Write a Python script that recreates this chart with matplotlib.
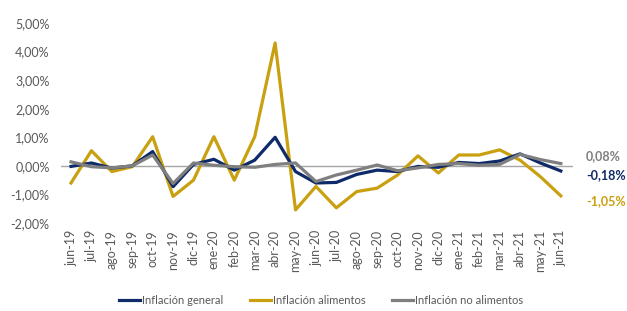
import numpy as np
import matplotlib
matplotlib.use('Agg')
import matplotlib.pyplot as plt
from matplotlib.ticker import FuncFormatter

plt.rcParams['font.family'] = ['Lato', 'DejaVu Sans']

meses = ['jun-19', 'jul-19', 'ago-19', 'sep-19', 'oct-19', 'nov-19', 'dic-19',
         'ene-20', 'feb-20', 'mar-20', 'abr-20', 'may-20', 'jun-20', 'jul-20',
         'ago-20', 'sep-20', 'oct-20', 'nov-20', 'dic-20', 'ene-21', 'feb-21',
         'mar-21', 'abr-21', 'may-21', 'jun-21']

general = [-0.02, 0.10, -0.08, 0.00, 0.50, -0.73, 0.05, 0.23, -0.15, 0.20,
           1.00, -0.20, -0.60, -0.58, -0.30, -0.15, -0.20, -0.02, -0.05, 0.12,
           0.08, 0.17, 0.42, 0.10, -0.18]
alimentos = [-0.60, 0.53, -0.20, -0.03, 1.02, -1.07, -0.50, 1.02, -0.50, 1.02,
             4.30, -1.54, -0.72, -1.47, -0.90, -0.78, -0.32, 0.35, -0.25, 0.38,
             0.38, 0.56, 0.20, -0.38, -1.05]
no_alimentos = [0.14, -0.03, -0.07, 0.00, 0.38, -0.62, 0.10, 0.02, -0.03, -0.05,
                0.05, 0.10, -0.55, -0.32, -0.15, 0.03, -0.17, -0.07, 0.05, 0.08,
                0.02, 0.05, 0.40, 0.22, 0.08]

c_gen = '#0e2a68'
c_ali = '#c9a00f'
c_no = '#7f7f7f'

fig = plt.figure(figsize=(6.27, 3.11), dpi=100)
ax = fig.add_axes([0.097, 0.283, 0.817, 0.643])

x = np.arange(len(meses))
ax.axhline(0, color='#a6a6a6', lw=1, zorder=1)
ax.plot(x, general, color=c_gen, lw=2.3, label='Inflación general', zorder=3)
ax.plot(x, alimentos, color=c_ali, lw=2.3, label='Inflación alimentos', zorder=2)
ax.plot(x, no_alimentos, color=c_no, lw=2.3, label='Inflación no alimentos', zorder=4)

ax.set_xlim(-0.5, 24.6)
ax.set_ylim(-2, 5)
ax.set_yticks(np.arange(-2, 6, 1))
ax.yaxis.set_major_formatter(FuncFormatter(lambda v, p: '{:.2f}%'.format(v).replace('.', ',')))
ax.set_xticks(x)
ax.set_xticklabels(meses, rotation=90)
ax.tick_params(length=0, colors='#595959', labelsize=9)
ax.tick_params(axis='y', pad=8)
ax.tick_params(axis='x', pad=5)
for s in ax.spines.values():
    s.set_visible(False)

# etiquetas del ultimo dato
for serie, col, dy in [(no_alimentos, c_no, 7), (general, c_gen, -4), (alimentos, c_ali, -5)]:
    v = serie[-1]
    ax.annotate('{:.2f}%'.format(v).replace('.', ','), xy=(x[-1], v),
                xytext=(25, dy), textcoords='offset pixels', color=col,
                fontsize=9, fontweight='bold', va='center', ha='left',
                annotation_clip=False)

fig.legend(loc='center', bbox_to_anchor=(0.512, 0.035), ncol=3, frameon=False,
           fontsize=8, handlelength=1.9, handletextpad=0.15, columnspacing=2.4,
           labelcolor='#595959')

fig.savefig('out.png', dpi=100)
